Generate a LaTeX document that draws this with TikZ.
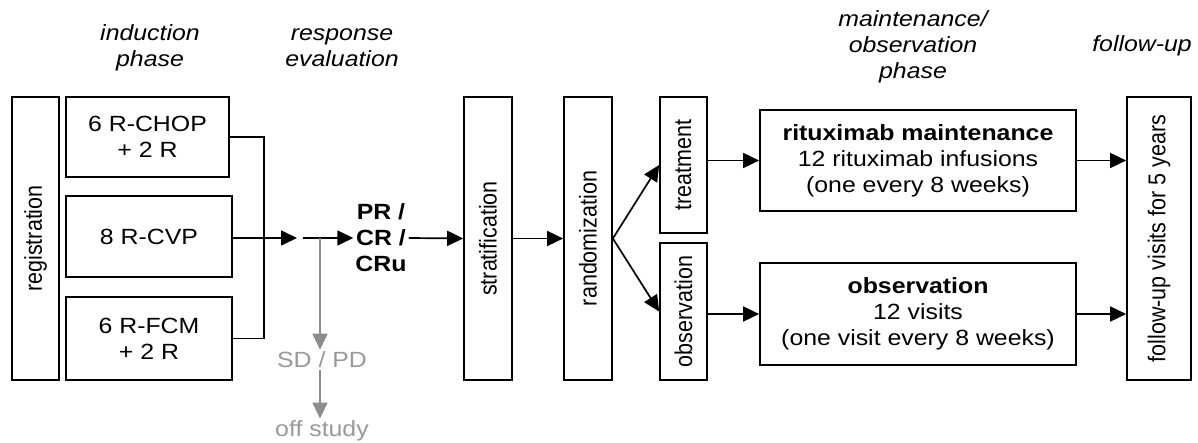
\documentclass[tikz,border=0pt]{standalone}
\usepackage{fontspec}
\setmainfont{Liberation Sans}[FakeStretch=1.13]
\newfontfamily\uprightsans{Liberation Sans}
\usepackage{tikz}
\usetikzlibrary{calc}
\usetikzlibrary{arrows.meta}

\newcommand\vlabel[1]{\rotatebox{90}{\scalebox{1}[1.13]{\uprightsans\fontsize{21.5}{26}\selectfont #1}}}

\begin{document}
\fontsize{22}{26}\selectfont
\begin{tikzpicture}[x=1pt,y=-1pt,
    box/.style={draw,line width=1.7pt,inner sep=0pt,align=center},
    txt/.style={inner sep=2pt,align=center},
    phase/.style={txt,font=\itshape},
    flow/.style={line width=1.7pt,-{Triangle[length=16pt,width=15pt]}},
    offflow/.style={flow,draw=black!45,fill=black!45}]
  % Boundary
  \path[use as bounding box] (0,0) rectangle (1198,443);
  % Phase headers
  \node[phase] (hind) at (150,48) {induction\\phase};
  \node[phase] (hresp) at (342,48) {response\\evaluation};
  \node[phase] (hmaint) at (913,47) {maintenance/\\observation\\phase};
  \node[phase] (hfu) at (1142,46) {follow-up};
  % Induction
  \node[box,minimum width=47,minimum height=283] (reg) at (35.5,238.5) {\vlabel{registration}};
  \node[box,minimum width=163,minimum height=80] (chop) at (147.5,137) {6 R-CHOP\\+ 2 R};
  \node[box,minimum width=166,minimum height=81] (cvp) at (149,236.5) {8 R-CVP};
  \node[box,minimum width=166,minimum height=83] (fcm) at (149,338.5) {6 R-FCM\\+ 2 R};
  \coordinate (brk) at (264,238);
  \coordinate (merge) at (297,238);
  \draw[line width=1.7pt] (chop.east) -| (brk) |- (fcm.east);
  \draw[flow] (cvp.east |- merge) -- (merge);
  % Response evaluation
  \node[txt,font=\bfseries] (resp) at (381,238) {PR /\\CR /\\CRu};
  \coordinate (respin) at (303,238);
  \coordinate (split) at (320,238);
  \draw[flow] (respin) -- (resp.west);
  \node[txt,text=black!40] (sd) at (322,360) {SD / PD};
  \node[txt,text=black!40] (off) at (322,431) {off study};
  \draw[offflow] (split) -- (sd.north -| split);
  \draw[offflow] (sd.south -| split) -- (off.north -| split);
  % Stratification and randomization
  \node[box,minimum width=48,minimum height=283] (strat) at (488,238.5) {\vlabel{stratification}};
  \node[box,minimum width=48,minimum height=283] (rand) at (588,238.5) {\vlabel{randomization}};
  \draw[flow] (resp.east) -- (strat.west);
  \draw[flow] (strat.east) -- (rand.west);
  % Arms
  \node[box,minimum width=47,minimum height=136] (treat) at (683.5,165) {\vlabel{treatment}};
  \node[box,minimum width=47,minimum height=137] (obs) at (683.5,311.5) {\vlabel{observation}};
  \draw[flow] (rand.east) -- (treat.west);
  \draw[flow] (rand.east) -- (obs.west);
  % Maintenance / observation phase
  \node[box,minimum width=316,minimum height=101] (rit) at (918,160.5) {\textbf{rituximab maintenance}\\12 rituximab infusions\\(one every 8 weeks)};
  \node[box,minimum width=316,minimum height=102] (obsph) at (918,314) {\textbf{observation}\\12 visits\\(one visit every 8 weeks)};
  \draw[flow] (treat.east |- rit.west) -- (rit.west);
  \draw[flow] (obs.east |- obsph.west) -- (obsph.west);
  % Follow-up
  \node[box,minimum width=64,minimum height=283] (fu) at (1159,238.5) {\vlabel{follow-up visits for 5 years}};
  \draw[flow] (rit.east) -- (rit.east -| fu.west);
  \draw[flow] (obsph.east) -- (obsph.east -| fu.west);
\end{tikzpicture}
\end{document}
